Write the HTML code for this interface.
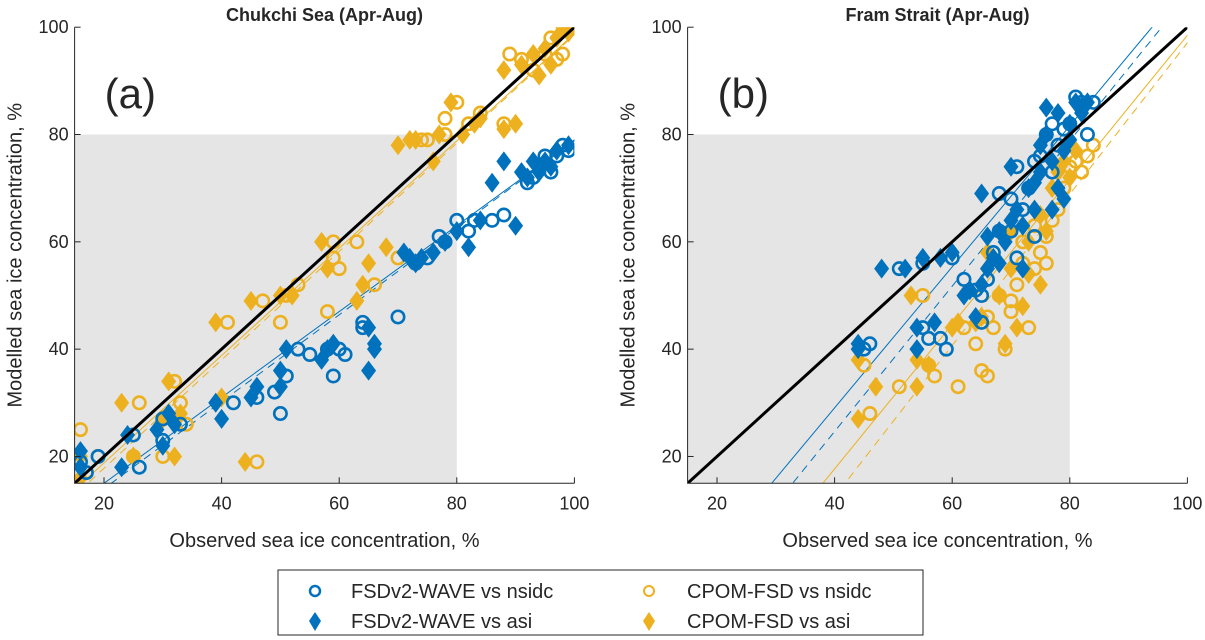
<!DOCTYPE html>
<html><head><meta charset="utf-8"><style>
html,body{margin:0;padding:0;background:#fff;overflow:hidden;width:1205px;height:640px;}
svg{display:block;}
svg text{font-family:"Liberation Sans",Arial,sans-serif;fill:#262626;}
</style></head><body>
<svg id="chart" width="1205" height="640" viewBox="0 0 1205 640" xmlns="http://www.w3.org/2000/svg">
<g id="pa"></g>
<g id="pb"></g>
<g>
<rect x="278" y="570" width="645" height="65" fill="#fff" stroke="#262626" stroke-width="1"/>
<circle cx="315" cy="591" r="5" fill="none" stroke="#0072BD" stroke-width="2.5"/>
<text x="351" y="598" font-size="20">FSDv2-WAVE vs nsidc</text>
<path d="M315 612 L321 621 L315 631 L309 621 Z" fill="#0072BD"/>
<text x="351" y="628" font-size="20">FSDv2-WAVE vs asi</text>
<circle cx="649" cy="591" r="5" fill="none" stroke="#EDB120" stroke-width="2"/>
<text x="687" y="598" font-size="20">CPOM-FSD vs nsidc</text>
<path d="M649 612 L655 621 L649 631 L643 621 Z" fill="#EDB120"/>
<text x="687" y="628" font-size="20">CPOM-FSD vs asi</text>
</g>
</svg>
<script>
const ticks=[20,40,60,80,100];
// Panel a data
const aYasi=[[16,16],[16,20],[23,30],[25,20],[31,34],[32,20],[30,27],[33,28],[39,45],[40,31],[44,19],[45,49],[50,50],[52,50],[57,60],[58,55],[63,49],[64,52],[65,56],[68,59],[70,78],[72,79],[73,79],[76,75],[77,80],[79,86],[81,80],[83,82],[84,83],[88,92],[88,81],[90,82],[91,93],[93,95],[95,96],[97,98],[98,100],[99,99],[96,93],[94,91]];
const aYnsidc=[[16,25],[17,17],[19,20],[25,20],[26,30],[30,20],[32,34],[33,30],[34,26],[41,45],[46,19],[47,49],[50,45],[51,50],[53,52],[59,60],[59,57],[58,47],[60,55],[63,60],[66,52],[70,57],[74,79],[75,79],[78,80],[78,83],[80,86],[82,82],[84,84],[88,82],[89,95],[91,94],[93,92],[95,95],[97,94],[98,95],[99,100],[96,98]];
const aBasi=[[16,21],[16,18],[23,18],[24,24],[29,25],[30,22],[31,28],[32,26],[39,30],[40,27],[45,31],[46,33],[50,33],[50,36],[51,40],[57,38],[58,40],[59,41],[65,36],[65,44],[66,41],[66,40],[71,58],[72,57],[73,56],[74,57],[76,58],[78,60],[80,62],[82,59],[84,64],[86,71],[88,75],[90,63],[91,73],[92,72],[93,75],[95,75],[97,77],[99,78],[94,73],[96,74]];
const aBnsidc=[[16,19],[17,17],[19,20],[25,24],[26,18],[30,23],[30,27],[33,26],[42,30],[46,31],[49,32],[50,28],[51,35],[53,40],[55,39],[58,40],[60,40],[61,39],[59,35],[64,44],[64,45],[70,46],[73,56],[75,57],[77,61],[78,60],[80,64],[82,62],[83,64],[86,64],[88,65],[92,71],[93,72],[94,74],[95,76],[97,76],[99,77],[96,73],[98,78]];
// fit lines [slope, intercept]
const aFits=[[1.0,-1.2,'#EDB120',false],[1.01,-2.4,'#EDB120',true],[0.8,-1,'#0072BD',false],[0.81,-2.2,'#0072BD',true]];
// Panel b data
const bBasi=[[44,40],[44,41],[48,55],[52,55],[54,44],[54,40],[55,57],[57,45],[58,57],[60,58],[62,50],[63,51],[64,46],[65,52],[65,69],[66,55],[67,57],[68,56],[68,62],[70,64],[70,74],[71,66],[72,63],[73,70],[74,71],[75,73],[75,78],[76,85],[76,80],[77,75],[78,84],[78,70],[79,77],[80,82],[80,79],[81,86],[82,84],[83,86],[79,68],[72,55],[69,60],[66,61],[74,66],[77,66]];
const bBnsidc=[[45,40],[46,41],[51,55],[55,56],[55,44],[56,42],[58,42],[59,40],[60,57],[62,53],[64,51],[65,50],[65,45],[66,53],[67,58],[68,62],[68,69],[70,62],[70,68],[71,74],[72,66],[73,70],[74,75],[75,76],[76,80],[77,82],[78,78],[79,81],[80,82],[81,87],[82,86],[84,86],[83,80],[77,73],[74,61],[71,57]];
const bYasi=[[44,38],[44,27],[47,33],[53,50],[54,38],[54,33],[56,37],[60,44],[61,45],[64,45],[65,46],[66,58],[68,50],[69,41],[70,55],[71,44],[72,48],[73,54],[73,60],[75,52],[75,65],[76,62],[77,70],[78,73],[79,75],[80,72],[81,77],[66,55],[70,62],[74,66]];
const bYnsidc=[[45,37],[46,28],[51,33],[55,50],[56,37],[57,35],[61,33],[62,44],[64,41],[65,36],[66,35],[67,44],[68,50],[69,40],[70,49],[71,52],[72,56],[73,44],[74,55],[75,58],[76,56],[76,61],[77,64],[78,66],[79,70],[80,74],[81,75],[82,73],[83,76],[84,78],[70,47],[72,60],[74,63],[66,46]];
const bFits=[[1.314,-23.5,'#0072BD',false],[1.354,-29.5,'#0072BD',true],[1.347,-36.2,'#EDB120',false],[1.41,-43.9,'#EDB120',true]];

const NS='http://www.w3.org/2000/svg';
function mk(tag,attrs,parent){const e=document.createElementNS(NS,tag);for(const k in attrs)e.setAttribute(k,attrs[k]);parent.appendChild(e);return e;}

function panel(g,x0,title,lab,fits,series){
  const X=v=>x0+(v-15)*5.88, Y=v=>483.3-(v-15)*5.366;
  const bg=mk('rect',{x:X(15),y:Y(80),width:X(80)-X(15),height:Y(15)-Y(80),fill:'#e5e5e5'},g);
  
  
  const clip=mk('clipPath',{id:'c'+lab},g);
  mk('rect',{x:X(15),y:Y(100),width:X(100)-X(15),height:Y(15)-Y(100)},clip);
  const pg=mk('g',{'clip-path':'url(#c'+lab+')'},g);
  fits.forEach(f=>{
    const l=mk('line',{x1:X(0),y1:Y(f[1]),x2:X(110),y2:Y(f[0]*110+f[1]),stroke:f[2],'stroke-width':1,'stroke-dasharray':f[3]?'8,6':'none'},pg);
    
    
  });
  series.forEach(s=>{
    s.data.forEach(p=>{
      let e;
      if(s.circle){e=mk('circle',{cx:X(p[0]),cy:Y(p[1]),r:6.2,fill:'none',stroke:s.color,'stroke-width':2.6},pg);}
      else{const cx=X(p[0]),cy=Y(p[1]);e=mk('path',{d:`M${cx} ${cy-10}L${cx+7.5} ${cy}L${cx} ${cy+10}L${cx-7.5} ${cy}Z`,fill:s.color},pg);}
      
      
    });
  });
  const one=mk('line',{x1:X(15),y1:Y(15),x2:X(100),y2:Y(100),stroke:'#000','stroke-width':3},pg);
  
  
  mk('path',{d:`M${X(15)} ${Y(100)}V${Y(15)}H${X(100)}`,fill:'none',stroke:'#262626','stroke-width':1},g);
  ticks.forEach(t=>{
    mk('line',{x1:X(t),y1:Y(15),x2:X(t),y2:Y(15)-6,stroke:'#262626'},g);
    mk('line',{x1:X(15),y1:Y(t),x2:X(15)+6,y2:Y(t),stroke:'#262626'},g);
    const tx=mk('text',{x:X(t),y:Y(15)+26,'font-size':18,'text-anchor':'middle'},g);tx.textContent=t;
    
    
    const ty=mk('text',{x:X(15)-6,y:Y(t)+6,'font-size':18,'text-anchor':'end'},g);ty.textContent=t;
    
    
  });
  const xt=mk('text',{x:(X(15)+X(100))/2,y:547,'font-size':20,'text-anchor':'middle'},g);xt.textContent='Observed sea ice concentration, %';
  
  
  const yt=mk('text',{x:0,y:0,'font-size':20,'text-anchor':'middle',transform:`translate(${X(15)-53},${(Y(15)+Y(100))/2}) rotate(-90)`},g);yt.textContent='Modelled sea ice concentration, %';
  
  
  const tt=mk('text',{x:(X(15)+X(100))/2,y:21,'font-size':18,'font-weight':'bold','text-anchor':'middle',fill:'#000'},g);tt.textContent=title;
  
  
  const pl=mk('text',{x:X(15)+30,y:108,'font-size':42,fill:'#000'},g);pl.textContent='('+lab+')';
  
  
}
panel(document.getElementById('pa'),74.6,'Chukchi Sea (Apr-Aug)','a',aFits,[
 {data:aYnsidc,circle:true,color:'#EDB120',name:'cpom-nsidc'},
 {data:aYasi,circle:false,color:'#EDB120',name:'cpom-asi'},
 {data:aBnsidc,circle:true,color:'#0072BD',name:'fsdv2-nsidc'},
 {data:aBasi,circle:false,color:'#0072BD',name:'fsdv2-asi'}]);
panel(document.getElementById('pb'),687.6,'Fram Strait (Apr-Aug)','b',bFits,[
 {data:bYnsidc,circle:true,color:'#EDB120',name:'cpom-nsidc'},
 {data:bYasi,circle:false,color:'#EDB120',name:'cpom-asi'},
 {data:bBnsidc,circle:true,color:'#0072BD',name:'fsdv2-nsidc'},
 {data:bBasi,circle:false,color:'#0072BD',name:'fsdv2-asi'}]);
</script>
</body></html>
